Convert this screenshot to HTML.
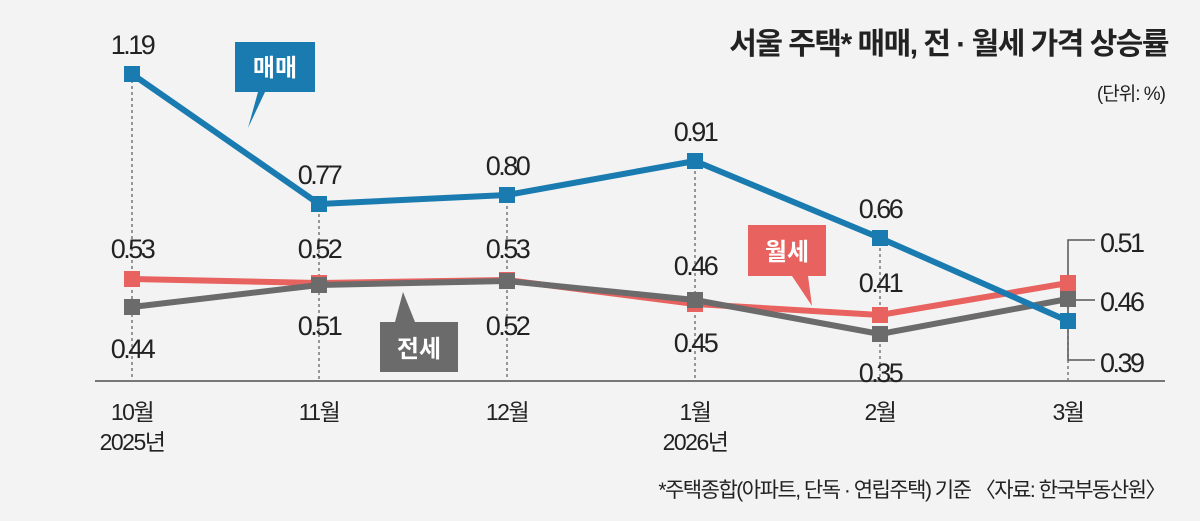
<!DOCTYPE html>
<html><head><meta charset="utf-8"><style>
body{margin:0;background:#f3f3f3;}
svg text{font-family:"Liberation Sans","Noto Sans CJK KR",sans-serif;fill:#222;}
</style></head><body>
<svg width="1200" height="516" viewBox="0 0 1200 516" xmlns="http://www.w3.org/2000/svg">
<rect width="1200" height="516" fill="#f3f3f3"/>
<text x="1168" y="54" text-anchor="end" font-size="30" font-weight="bold" letter-spacing="-1.5">서울 주택* 매매, 전 · 월세 가격 상승률</text>
<text x="1165" y="100" text-anchor="end" font-size="19" letter-spacing="-1">(단위: %)</text>
<g stroke="#666" stroke-width="1.3" stroke-dasharray="3,3">
<line x1="132" y1="80" x2="132" y2="381"/><line x1="319" y1="208" x2="319" y2="381"/>
<line x1="507" y1="200" x2="507" y2="381"/><line x1="695" y1="165" x2="695" y2="381"/>
<line x1="880" y1="242" x2="880" y2="381"/><line x1="1068" y1="300" x2="1068" y2="381"/>
</g>
<line x1="95" y1="381" x2="1165" y2="381" stroke="#777" stroke-width="2"/>
<path d="M1095 240H1068V360H1095M1068 300H1095" fill="none" stroke="#555" stroke-width="1.5"/>
<g fill="none" stroke-width="6" stroke-linejoin="round">
<polyline stroke="#e8625f" points="132,279 319,283 507,280 695,304 880,315 1068,283"/>
<polyline stroke="#6b6b6b" points="132,307 319,285 507,281 695,300 880,334 1068,299"/>
<polyline stroke="#1a7bb0" points="132,74 319,204 507,195 695,161 880,238 1068,321"/>
</g>
<g fill="#e8625f"><rect x="124" y="271" width="16" height="16"/><rect x="311" y="275" width="16" height="16"/><rect x="499" y="272" width="16" height="16"/><rect x="687" y="296" width="16" height="16"/><rect x="872" y="307" width="16" height="16"/><rect x="1060" y="275" width="16" height="16"/></g>
<g fill="#6b6b6b"><rect x="124" y="299" width="16" height="16"/><rect x="311" y="277" width="16" height="16"/><rect x="499" y="273" width="16" height="16"/><rect x="687" y="292" width="16" height="16"/><rect x="872" y="326" width="16" height="16"/><rect x="1060" y="291" width="16" height="16"/></g>
<g fill="#1a7bb0"><rect x="124" y="66" width="16" height="16"/><rect x="311" y="196" width="16" height="16"/><rect x="499" y="187" width="16" height="16"/><rect x="687" y="153" width="16" height="16"/><rect x="872" y="230" width="16" height="16"/><rect x="1060" y="313" width="16" height="16"/></g>
<path d="M235 42H315V92H265L248 128L258 92H235Z" fill="#1a7bb0"/>
<text x="275" y="76" text-anchor="middle" font-size="24" font-weight="bold" style="fill:#fff">매매</text>
<path d="M748 225H826V276H808L812 306L792 276H748Z" fill="#e8625f"/>
<text x="787" y="260" text-anchor="middle" font-size="24" font-weight="bold" style="fill:#fff">월세</text>
<path d="M380 322H458V372H380V322H395L403 292L415 322Z" fill="#6b6b6b"/>
<text x="419" y="357" text-anchor="middle" font-size="24" font-weight="bold" style="fill:#fff">전세</text>
<g font-size="27" text-anchor="middle" letter-spacing="-2.5">
<text x="132" y="54">1.19</text><text x="319" y="184">0.77</text><text x="507" y="175">0.80</text><text x="695" y="141">0.91</text><text x="880" y="218">0.66</text>
<text x="132" y="258">0.53</text><text x="319" y="258">0.52</text><text x="507" y="258">0.53</text><text x="695" y="275">0.46</text><text x="880" y="292">0.41</text>
<text x="132" y="358">0.44</text><text x="319" y="335">0.51</text><text x="507" y="335">0.52</text><text x="695" y="352">0.45</text><text x="880" y="382">0.35</text>
</g>
<g font-size="27" letter-spacing="-2.5"><text x="1100" y="252">0.51</text><text x="1100" y="311">0.46</text><text x="1100" y="372">0.39</text></g>
<g font-size="23" text-anchor="middle" letter-spacing="-1.5">
<text x="132" y="420">10월</text><text x="132" y="450">2025년</text><text x="319" y="420">11월</text><text x="507" y="420">12월</text>
<text x="695" y="420">1월</text><text x="695" y="450">2026년</text><text x="880" y="420">2월</text><text x="1068" y="420">3월</text>
</g>
<text x="1165" y="497" text-anchor="end" font-size="21" letter-spacing="-1.5">*주택종합(아파트, 단독 · 연립주택) 기준 〈자료: 한국부동산원〉</text>
</svg>
</body></html>
